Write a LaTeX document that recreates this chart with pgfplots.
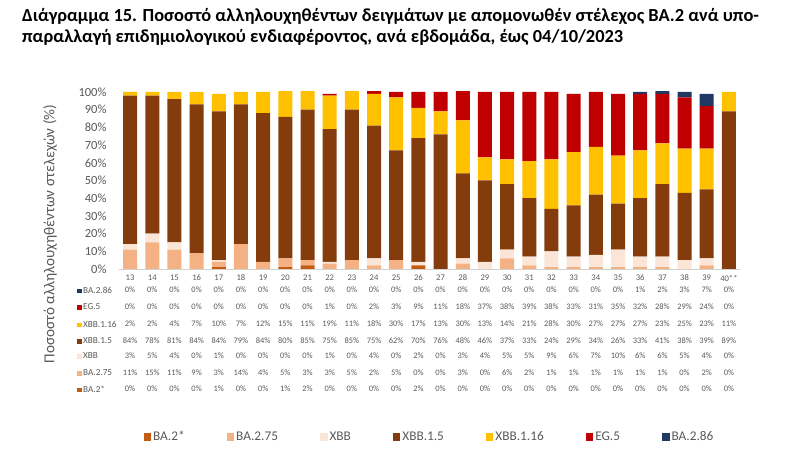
\documentclass[border=0pt]{standalone}
\usepackage{pgfplots}
\usepackage{pgfplotstable}
\pgfplotsset{compat=1.18}
\usepackage{fontspec}
\setmainfont{Carlito}
\definecolor{cBAtwo}{HTML}{C55A11}
\definecolor{cBAsf}{HTML}{F4B183}
\definecolor{cXBB}{HTML}{FBE5D6}
\definecolor{cXBBfive}{HTML}{843C0C}
\definecolor{cXBBsix}{HTML}{FFC000}
\definecolor{cEG}{HTML}{C00000}
\definecolor{cBAes}{HTML}{203864}
\definecolor{txt}{HTML}{595959}

\pgfplotstableread{
x wk ba2 ba275 xbb xbb15 xbb116 eg5 ba286
0 13 0 11 3 84 2 0 0
1 14 0 15 5 78 2 0 0
2 15 0 11 4 81 4 0 0
3 16 0 9 0 84 7 0 0
4 17 1 3 1 84 10 0 0
5 18 0 14 0 79 7 0 0
6 19 0 4 0 84 12 0 0
7 20 1 5 0 80 15 0 0
8 21 2 3 0 85 11 0 0
9 22 0 3 1 75 19 1 0
10 23 0 5 0 85 11 0 0
11 24 0 2 4 75 18 2 0
12 25 0 5 0 62 30 3 0
13 26 2 0 2 70 17 9 0
14 27 0 0 0 76 13 11 0
15 28 0 3 3 48 30 18 0
16 29 0 0 4 46 13 37 0
17 30 0 6 5 37 14 38 0
18 31 0 2 5 33 21 39 0
19 32 0 1 9 24 28 38 0
20 33 0 1 6 29 30 33 0
21 34 0 1 7 34 27 31 0
22 35 0 1 10 26 27 35 0
23 36 0 1 6 33 27 32 1
24 37 0 1 6 41 23 28 2
25 38 0 0 5 38 25 29 3
26 39 0 2 4 39 23 24 7
27 40** 0 0 0 89 11 0 0
}\data

\pgfplotsset{
  common/.style={
    at={(119pt,201pt)}, anchor=south west,
    scale only axis, width=621pt, height=177pt,
    xmin=-0.5, xmax=27.5, ymin=0, ymax=100,
  },
  trow/.style={draw=none, mark=none, forget plot,
    nodes near coords={\pgfmathprintnumber[fixed,precision=0,assume math mode=true]{\pgfplotspointmeta}\%},
    every node near coord/.append style={anchor=center, inner sep=0pt,
      font=\fontsize{8.4}{10}\selectfont, text=txt},
  },
}

\begin{document}
\begin{tikzpicture}
\path[use as bounding box] (0,0) rectangle (800pt,470pt);

\node[anchor=north west, align=left, font=\fontsize{18.4}{21.5}\selectfont\bfseries, inner sep=0pt]
  at (22pt,462pt) {Διάγραμμα 15. Ποσοστό αλληλουχηθέντων δειγμάτων με απομονωθέν στέλεχος BA.2 ανά υπο-\\
  παραλλαγή επιδημιολογικού ενδιαφέροντος, ανά εβδομάδα, έως 04/10/2023};

\node[rotate=90, font=\fontsize{15.2}{17}\selectfont, text=txt] at (50pt,236pt)
  {Ποσοστό αλληλουχηθέντων στελεχών (\%)};

\begin{axis}[common,
  ybar stacked, bar width=14pt,
  axis lines*=left,
  x axis line style={draw=black!18, line width=0.8pt},
  y axis line style={draw=none},
  tick style={draw=none}, major tick length=0pt,
  xtick=data, xticklabels from table={\data}{wk},
  xticklabel style={font=\fontsize{8.6}{10}\selectfont, text=txt, anchor=center, yshift=-9pt},
  ytick={0,10,...,100},
  yticklabels={0\%,10\%,20\%,30\%,40\%,50\%,60\%,70\%,80\%,90\%,100\%},
  yticklabel style={font=\fontsize{12.5}{14}\selectfont, text=txt, anchor=east, xshift=-9pt},
  legend columns=-1,
  legend style={at={(0.5,-0.949)}, anchor=center, draw=none, fill=none,
    font=\fontsize{13.3}{15}\selectfont, text=txt,
    /tikz/every even column/.append style={column sep=40pt},
    nodes={inner sep=2pt}},
  legend image code/.code={\fill[#1, draw=none] (0pt,-3.8pt) rectangle (7.5pt,3.8pt);},
]
\addplot[fill=cBAtwo, draw=none] table[x=x, y=ba2]{\data};
\addlegendentry{BA.2*}
\addplot[fill=cBAsf, draw=none] table[x=x, y=ba275]{\data};
\addlegendentry{BA.2.75}
\addplot[fill=cXBB, draw=none] table[x=x, y=xbb]{\data};
\addlegendentry{XBB}
\addplot[fill=cXBBfive, draw=none] table[x=x, y=xbb15]{\data};
\addlegendentry{XBB.1.5}
\addplot[fill=cXBBsix, draw=none] table[x=x, y=xbb116]{\data};
\addlegendentry{XBB.1.16}
\addplot[fill=cEG, draw=none] table[x=x, y=eg5]{\data};
\addlegendentry{EG.5}
\addplot[fill=cBAes, draw=none] table[x=x, y=ba286]{\data};
\addlegendentry{BA.2.86}
\node[font=\fontsize{14.5}{16}\selectfont, text=txt] at (axis cs:13.5,-78.5) {Εβδομάδα};
\end{axis}

\begin{axis}[common, hide axis, clip=false, point meta=explicit]
\addplot[trow] table[x=x, y expr=-11.9, meta=ba286]{\data};
\addplot[trow] table[x=x, y expr=-21.5, meta=eg5]{\data};
\addplot[trow] table[x=x, y expr=-31.1, meta=xbb116]{\data};
\addplot[trow] table[x=x, y expr=-40.7, meta=xbb15]{\data};
\addplot[trow] table[x=x, y expr=-49.2, meta=xbb]{\data};
\addplot[trow] table[x=x, y expr=-58.8, meta=ba275]{\data};
\addplot[trow] table[x=x, y expr=-67.8, meta=ba2]{\data};
\end{axis}

\begin{scope}[every node/.style={anchor=west, inner sep=0pt, font=\fontsize{9.2}{10}\selectfont, text=txt}]
\node at (77pt,180pt) {\textcolor{cBAes}{\rule{4.5pt}{4.5pt}}\hspace{1.5pt}BA.2.86};
\node at (77pt,163pt) {\textcolor{cEG}{\rule{4.5pt}{4.5pt}}\hspace{1.5pt}EG.5};
\node at (77pt,146pt) {\textcolor{cXBBsix}{\rule{4.5pt}{4.5pt}}\hspace{1.5pt}XBB.1.16};
\node at (77pt,129pt) {\textcolor{cXBBfive}{\rule{4.5pt}{4.5pt}}\hspace{1.5pt}XBB.1.5};
\node at (77pt,114pt) {\textcolor{cXBB}{\rule{4.5pt}{4.5pt}}\hspace{1.5pt}XBB};
\node at (77pt,97pt) {\textcolor{cBAsf}{\rule{4.5pt}{4.5pt}}\hspace{1.5pt}BA.2.75};
\node at (77pt,81pt) {\textcolor{cBAtwo}{\rule{4.5pt}{4.5pt}}\hspace{1.5pt}BA.2*};
\end{scope}
\end{tikzpicture}
\end{document}
